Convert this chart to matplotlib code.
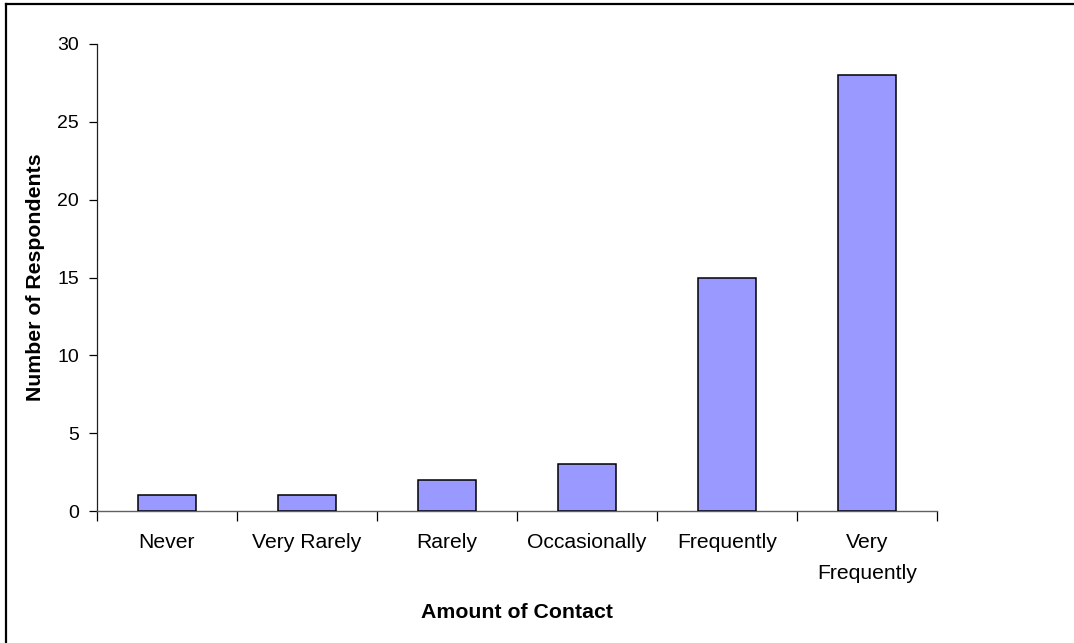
import matplotlib
matplotlib.use("Agg")
import matplotlib.pyplot as plt
from matplotlib.lines import Line2D

categories = ["Never", "Very Rarely", "Rarely", "Occasionally", "Frequently", "Very\nFrequently"]
respondents = [1, 1, 2, 3, 15, 28]
y_ticks = [0, 5, 10, 15, 20, 25, 30]

plt.rcParams["font.family"] = ["Liberation Sans", "DejaVu Sans"]

W, H = 1074, 643
fig = plt.figure(figsize=(W / 100, H / 100), dpi=100)
ax = fig.add_axes([97 / W, 1 - 511 / H, (937 - 97) / W, (511 - 44) / H])

x = range(len(categories))
ax.bar(x, respondents, width=0.41, color="#9999FF", edgecolor="black", linewidth=1.1, zorder=3)

ax.set_xlim(-0.5, len(categories) - 0.5)
ax.set_ylim(0, 30)
ax.set_yticks(y_ticks)
ax.set_xticks([i - 0.5 for i in range(len(categories) + 1)], minor=False)
ax.set_xticklabels([])
ax.set_xticks(list(x), minor=True)
ax.set_xticklabels(categories, minor=True, fontsize=15.2, linespacing=1.8)
ax.tick_params(axis="x", which="minor", length=0, pad=16)
ax.tick_params(axis="x", which="major", length=7, width=0.9, direction="out")
ax.tick_params(axis="y", length=6, width=0.9, direction="out", labelsize=14, pad=7)

for side in ("top", "right"):
    ax.spines[side].set_visible(False)
ax.spines["left"].set_color("#202020")
ax.spines["bottom"].set_color("#606060")
ax.spines["left"].set_linewidth(0.9)
ax.spines["bottom"].set_linewidth(1.0)

ax.set_xlabel("Amount of Contact", fontsize=15.3, fontweight="bold", labelpad=14)
ax.set_ylabel("Number of Respondents", fontsize=15.3, fontweight="bold", labelpad=9)

# chart frame (top and left edges)
fig.add_artist(Line2D([6 / W, 6 / W], [0, 1 - 4 / H], color="black", linewidth=1.6))
fig.add_artist(Line2D([6 / W, 1], [1 - 4 / H, 1 - 4 / H], color="black", linewidth=1.6))

fig.savefig("out.png", dpi=100)
